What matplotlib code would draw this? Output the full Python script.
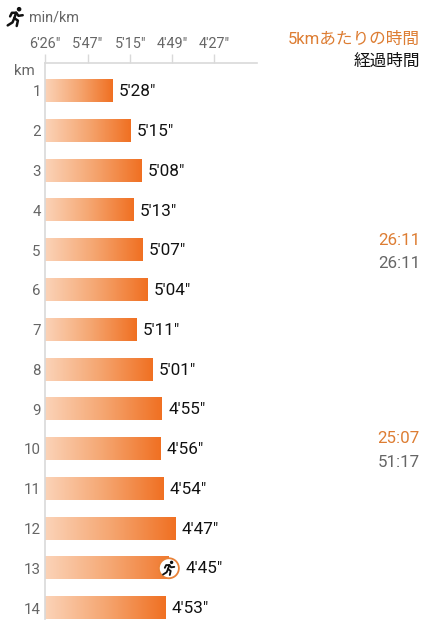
import numpy as np
import matplotlib
matplotlib.use('Agg')
import matplotlib.pyplot as plt
from matplotlib.patches import Circle, Rectangle
from matplotlib.transforms import blended_transform_factory

plt.rcParams['font.family'] = ['Roboto', 'Noto Sans CJK JP', 'DejaVu Sans']

km = list(range(1, 15))
pace_min = [5, 5, 5, 5, 5, 5, 5, 5, 4, 4, 4, 4, 4, 4]
pace_sec = [28, 15, 8, 13, 7, 4, 11, 1, 55, 56, 54, 47, 45, 53]
tick_min = [6, 5, 5, 4, 4]
tick_sec = [26, 47, 15, 49, 27]
split_km = [5, 10]
split_times = ['26:11', '25:07']
total_times = ['26:11', '51:17']
fastest_km = 13

W, H = 433, 640
ORANGE = '#f07022'
LABEL_ORANGE = '#dd7d33'
GRAY = '#666666'
AXIS = '#d9d9d9'


def secs(m, s):
    return m * 60 + s


def fmt(m, s):
    return "%d'%02d\"" % (m, s)


fig = plt.figure(figsize=(W / 100, H / 100), dpi=100)
ax = fig.add_axes([45 / W, 1 - 619 / H, (257 - 45) / W, (619 - 63) / H])

# the x axis is speed, so the pace ticks get closer together
x0 = 1 / secs(tick_min[0], tick_sec[0])
per_px = (1 / secs(tick_min[4], tick_sec[4]) - x0) / (214 - 45)
ax.set_xlim(x0, x0 + 212 * per_px)
ax.set_ylim(1 + (619 - 91) / 39.77, 1 - (91 - 63) / 39.77)

grad = np.linspace(0, 1, 256).reshape(1, -1)
cmap = matplotlib.colors.LinearSegmentedColormap.from_list('bar', ['#fbd3b8', '#f5a671', ORANGE])
for k, m, s in zip(km, pace_min, pace_sec):
    end = 1 / secs(m, s)
    ax.imshow(grad, extent=[x0, end, k + 0.28, k - 0.28], aspect='auto', cmap=cmap, zorder=2)
    ax.annotate(fmt(m, s), (end, k), xytext=(4.5, -0.5), textcoords='offset points',
                va='center', ha='left', fontsize=12.3, color='#111111')

for spine in ['right', 'bottom']:
    ax.spines[spine].set_visible(False)
for spine in ['left', 'top']:
    ax.spines[spine].set_color(AXIS)
    ax.spines[spine].set_linewidth(1.2)

ax.xaxis.tick_top()
ax.set_xticks([1 / secs(m, s) for m, s in zip(tick_min, tick_sec)])
ax.set_xticklabels([fmt(m, s) for m, s in zip(tick_min, tick_sec)], fontsize=10.4, color=GRAY)
ax.tick_params(axis='x', length=6.5, width=1, color=AXIS, pad=2.5)
ax.get_xticklines()[0].set_visible(False)
ax.set_yticks(km)
ax.set_yticklabels(km, fontsize=10.8, color=GRAY)
ax.tick_params(axis='y', length=0, pad=3)

# split times on the right
trans = blended_transform_factory(fig.transFigure, ax.transData)
for k, a, b in zip(split_km, split_times, total_times):
    ax.text(420 / W, k - 0.25, a, transform=trans, ha='right', va='center', fontsize=12.2, color=LABEL_ORANGE)
    ax.text(420 / W, k + 0.33, b, transform=trans, ha='right', va='center', fontsize=12.2, color=GRAY)

fig.text(420 / W, 1 - 39 / H, '5kmあたりの時間', ha='right', va='center', fontsize=12, color=LABEL_ORANGE)
fig.text(420 / W, 1 - 61 / H, '経過時間', ha='right', va='center', fontsize=12, color='#111111')
fig.text(29 / W, 1 - 18 / H, 'min/km', ha='left', va='center', fontsize=10.4, color=GRAY)
fig.text(14 / W, 1 - 71 / H, 'km', ha='left', va='center', fontsize=10.8, color=GRAY)

# overlay in pixel coordinates for the icons
ov = fig.add_axes([0, 0, 1, 1], zorder=5)
ov.set_xlim(0, W)
ov.set_ylim(H, 0)
ov.axis('off')


def runner(cx, cy, scale=1.0, color='#111111'):
    pts = [
        [(0.5, -3.5), (-1, 1)],
        [(-1, 1), (2, 3), (1, 7.5)],
        [(-1, 1), (-2.5, 4.5), (-6.5, 7)],
        [(0.5, -3.5), (-3, -3.5), (-4.5, -0.5)],
        [(0.5, -3.5), (2.5, -1), (6, -1.5)],
    ]
    for p in pts:
        xs = [cx + a * scale for a, b in p]
        ys = [cy + b * scale for a, b in p]
        ov.plot(xs, ys, color=color, lw=1.5 * scale, solid_capstyle='round', solid_joinstyle='round')
    ov.add_patch(Circle((cx + 3 * scale, cy - 6.5 * scale), 1.9 * scale, color=color, lw=0))


runner(15.5, 17, 1.2)
fast_end = 1 / secs(pace_min[fastest_km - 1], pace_sec[fastest_km - 1])
px_end, py = ov.transData.inverted().transform(ax.transData.transform((fast_end, fastest_km)))
# round off the end of the fastest bar behind the marker
ov.add_patch(Rectangle((px_end - 10.5, py - 12), 12, 24, facecolor='white', lw=0))
ov.add_patch(Circle((px_end - 10.5, py), 10, facecolor='white', edgecolor='#e98238', lw=1.3))
runner(px_end - 10.5, py, 0.9)

fig.savefig('out.png', dpi=100)
